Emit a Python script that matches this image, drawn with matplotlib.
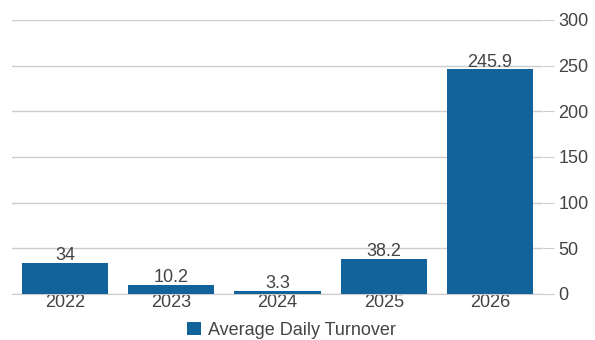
import matplotlib
matplotlib.use("Agg")
import matplotlib.pyplot as plt
import numpy as np

years = ["2022", "2023", "2024", "2025", "2026"]
turnover = [34, 10.2, 3.3, 38.2, 245.9]
y_ticks = [0, 50, 100, 150, 200, 250, 300]

BAR_COLOR = "#12629c"
TEXT_COLOR = "#444444"
GRID_COLOR = "#cccccc"

plt.rcParams["font.family"] = ["Liberation Sans", "DejaVu Sans"]

fig = plt.figure(figsize=(5.95, 3.4), dpi=100)
ax = fig.add_axes([12 / 595, 46 / 340, 531 / 595, 274 / 340])

x = np.arange(len(years))
bars = ax.bar(x, turnover, width=0.81, color=BAR_COLOR, zorder=3,
              label="Average Daily Turnover")

# value labels sit right on top of each bar
for rect, val in zip(bars, turnover):
    ax.annotate(f"{val:g}", (rect.get_x() + rect.get_width() / 2, val),
                xytext=(0, -1), textcoords="offset points",
                ha="center", va="bottom", fontsize=13, color=TEXT_COLOR)

ax.set_xlim(-0.5, len(years) - 0.5)
ax.set_ylim(0, 300)
ax.set_xticks(x)
ax.set_xticklabels(years)
ax.set_yticks(y_ticks)
ax.yaxis.tick_right()
ax.yaxis.grid(True, color=GRID_COLOR, linewidth=1, zorder=0)
ax.tick_params(axis="y", length=8, color=GRID_COLOR, labelsize=13,
               labelcolor=TEXT_COLOR, pad=3)
ax.tick_params(axis="x", length=0, labelsize=13, labelcolor=TEXT_COLOR, pad=0)
for side in ["top", "left", "right"]:
    ax.spines[side].set_visible(False)
ax.spines["bottom"].set_color(GRID_COLOR)

leg = fig.legend(handles=[bars], labels=["Average Daily Turnover"],
                 loc="lower center", bbox_to_anchor=(0.49, -0.045),
                 frameon=False, fontsize=13, handlelength=0.75, handleheight=0.75,
                 handletextpad=0.4)
for t in leg.get_texts():
    t.set_color(TEXT_COLOR)

fig.savefig("out.png", dpi=100)
